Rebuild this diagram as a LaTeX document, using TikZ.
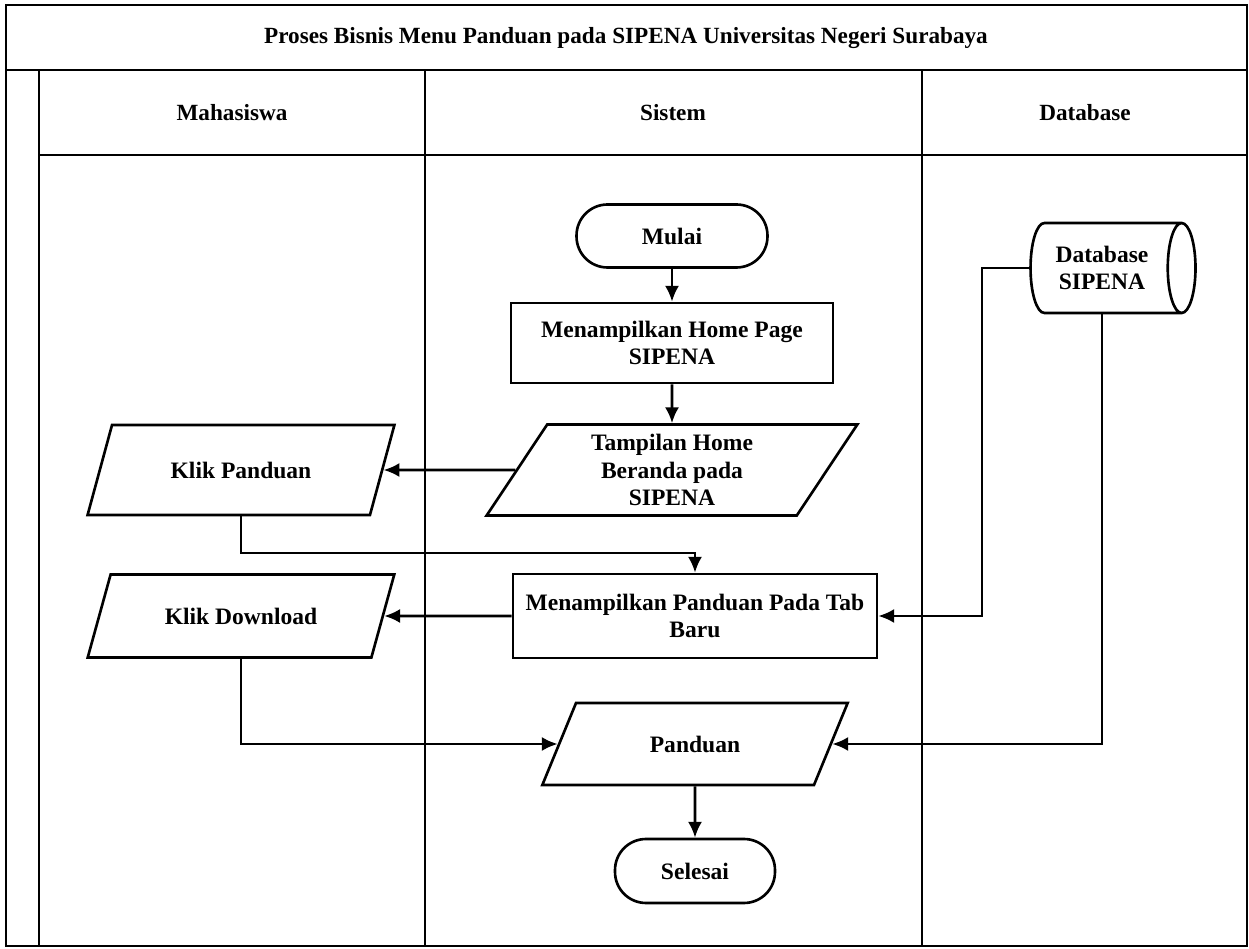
\documentclass[tikz,border=0pt]{standalone}
\usepackage{fontspec}
\setmainfont{Liberation Serif}
\usepackage{tikz}
\usetikzlibrary{shapes.geometric,arrows.meta}

\begin{document}
\begin{tikzpicture}[x=0.02cm,y=-0.02cm,>={Latex[length=9pt,width=8pt]},line width=1.5pt,
    font={\bfseries\fontsize{13.4}{15.5}\selectfont},
    terminal/.style={draw, rectangle, rounded corners=0.62cm, align=center},
    process/.style={draw, rectangle, align=center},
    inout/.style={draw, trapezium, trapezium left angle=63, trapezium right angle=117,
        trapezium stretches=true, align=center},
    store/.style={draw, cylinder, aspect=0.5, align=center},
    lanetitle/.style={font={\bfseries\fontsize{13.2}{15}\selectfont}}]

% page size (pixels of the sketch)
\useasboundingbox (0,0) rectangle (1249,949);

% lane positions
\def\laneTop{70}
\def\laneHead{155}
\def\laneBottom{946}

% swimlane frame
\draw (6,5) rectangle (1247,\laneBottom);
\draw (6,\laneTop) -- (1247,\laneTop);
\draw (39,\laneTop) -- (39,\laneBottom);
\draw (39,\laneHead) -- (1247,\laneHead);
\draw (425,\laneTop) -- (425,\laneBottom);
\draw (922,\laneTop) -- (922,\laneBottom);

% titles
\node[lanetitle] (title) at (626,38) {Proses Bisnis Menu Panduan pada SIPENA Universitas Negeri Surabaya};
\node[lanetitle] (laneMhs) at (232,113) {Mahasiswa};
\node[lanetitle] (laneSys) at (673,113) {Sistem};
\node[lanetitle] (laneDb) at (1085,113) {Database};

% flow nodes
\node[terminal, minimum width=3.82cm, minimum height=1.26cm] (start) at (672,236) {Mulai};
\node[process, minimum width=6.44cm, minimum height=1.6cm] (homePage) at (672,343) {Menampilkan Home Page\\SIPENA};
\node[inout, minimum width=7.42cm, minimum height=1.82cm] (beranda) at (672,470) {Tampilan Home\\Beranda pada\\SIPENA};
\node[inout, minimum width=6.14cm, minimum height=1.8cm] (klikPanduan) at (241,470) {Klik Panduan};
\node[process, minimum width=7.28cm, minimum height=1.68cm] (panduanTab) at (695,616) {Menampilkan Panduan Pada Tab\\Baru};
\node[inout, minimum width=6.14cm, minimum height=1.66cm] (klikDownload) at (241,616) {Klik Download};
\node[inout, minimum width=6.12cm, minimum height=1.64cm] (panduan) at (695,744) {Panduan};
\node[terminal, minimum width=3.2cm, minimum height=1.28cm] (selesai) at (695,871) {Selesai};
\node[store, minimum width=1.8cm, minimum height=3.3cm] (db) at (1102,268) {Database\\SIPENA};

% bend points
\coordinate (turnPanduan) at (695,553);
\coordinate (dbLeft) at (982,268);

% connectors
\draw[->] (start) -- (homePage);
\draw[->] (homePage) -- (beranda);
\draw[->] (beranda.west) -- (klikPanduan.east);
\draw[->] (klikPanduan.south) |- (turnPanduan) -- (panduanTab.north);
\draw[->] (panduanTab.west) -- (klikDownload.east);
\draw[->] (db.west) -- (dbLeft) |- (panduanTab.east);
\draw[->] (db.south) |- (panduan.east);
\draw[->] (klikDownload.south) |- (panduan.west);
\draw[->] (panduan) -- (selesai);

\end{tikzpicture}
\end{document}
